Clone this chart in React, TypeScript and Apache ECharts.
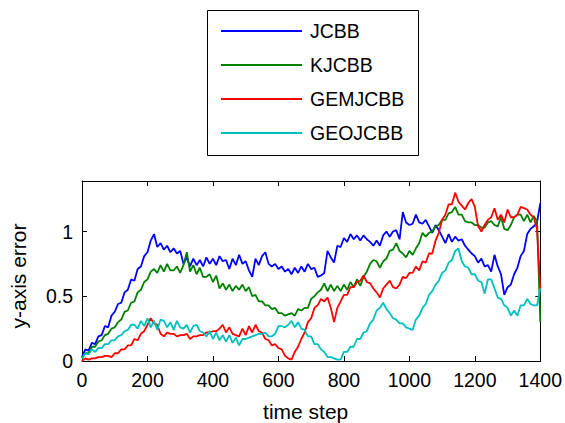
import React, { useEffect, useRef } from "react";
import * as echarts from "echarts";

const TIME_STEPS: number[] = Array.from({ length: 141 }, (_, i) => i * 10);

const JCBB: number[] = [
  0.03, 0.09, 0.08, 0.14, 0.13, 0.19, 0.20, 0.27, 0.26, 0.35,
  0.38, 0.44, 0.45, 0.53, 0.55, 0.63, 0.62, 0.71, 0.73, 0.81,
  0.84, 0.93, 0.98, 0.88, 0.91, 0.86, 0.89, 0.84, 0.87, 0.83,
  0.85, 0.75, 0.80, 0.73, 0.79, 0.74, 0.78, 0.73, 0.80, 0.75,
  0.79, 0.74, 0.81, 0.77, 0.78, 0.71, 0.79, 0.74, 0.82, 0.75,
  0.77, 0.70, 0.65, 0.79, 0.74, 0.81, 0.84, 0.75, 0.73, 0.75,
  0.71, 0.73, 0.69, 0.71, 0.67, 0.72, 0.68, 0.73, 0.69, 0.75,
  0.71, 0.72, 0.65, 0.66, 0.68, 0.85, 0.80, 0.76, 0.89, 0.88,
  0.95, 0.92, 0.98, 0.94, 0.97, 0.93, 0.97, 0.94, 0.92, 0.89,
  0.93, 0.89, 0.97, 1.00, 0.96, 1.00, 1.01, 0.94, 1.15, 1.07,
  1.05, 1.06, 1.13, 1.07, 1.06, 1.09, 1.04, 0.99, 1.05, 1.01,
  0.96, 0.91, 0.98, 0.92, 0.96, 0.93, 0.94, 0.89, 0.86, 0.83,
  0.81, 0.76, 0.79, 0.73, 0.74, 0.69, 0.82, 0.73, 0.67, 0.51,
  0.57, 0.59, 0.67, 0.72, 0.81, 0.85, 0.98, 1.02, 1.04, 1.07,
  1.22,
];

const KJCBB: number[] = [
  0.02, 0.06, 0.06, 0.11, 0.11, 0.15, 0.16, 0.20, 0.21, 0.25,
  0.26, 0.30, 0.32, 0.38, 0.39, 0.45, 0.46, 0.53, 0.55, 0.61,
  0.63, 0.69, 0.71, 0.68, 0.74, 0.69, 0.75, 0.70, 0.70, 0.73,
  0.68, 0.74, 0.84, 0.69, 0.74, 0.67, 0.72, 0.65, 0.65, 0.67,
  0.61, 0.66, 0.56, 0.60, 0.55, 0.59, 0.54, 0.58, 0.55, 0.59,
  0.54, 0.57, 0.50, 0.51, 0.46, 0.46, 0.43, 0.43, 0.40, 0.41,
  0.37, 0.37, 0.35, 0.36, 0.37, 0.35, 0.40, 0.39, 0.41, 0.41,
  0.48, 0.50, 0.53, 0.55, 0.60, 0.54, 0.59, 0.54, 0.58, 0.54,
  0.59, 0.55, 0.61, 0.57, 0.63, 0.58, 0.65, 0.69, 0.75, 0.78,
  0.77, 0.72, 0.77, 0.79, 0.85, 0.86, 0.91, 0.85, 0.83, 0.80,
  0.85, 0.82, 0.87, 0.91, 0.99, 0.96, 0.99, 1.00, 1.04, 1.05,
  1.09, 1.09, 1.14, 1.15, 1.19, 1.13, 1.13, 1.08, 1.07, 1.07,
  1.05, 1.05, 1.03, 1.03, 1.07, 1.08, 1.05, 1.04, 1.11, 1.02,
  1.01, 1.05, 1.11, 1.13, 1.13, 1.08, 1.13, 1.07, 1.12, 1.08,
  0.30,
];

const GEMJCBB: number[] = [
  0.00, 0.02, 0.01, 0.02, 0.02, 0.03, 0.03, 0.04, 0.04, 0.03,
  0.06, 0.06, 0.09, 0.09, 0.12, 0.12, 0.17, 0.16, 0.21, 0.23,
  0.28, 0.33, 0.29, 0.28, 0.21, 0.19, 0.22, 0.21, 0.21, 0.19,
  0.20, 0.20, 0.21, 0.17, 0.19, 0.19, 0.20, 0.20, 0.22, 0.22,
  0.23, 0.23, 0.25, 0.28, 0.22, 0.26, 0.21, 0.20, 0.19, 0.25,
  0.20, 0.27, 0.22, 0.28, 0.23, 0.22, 0.17, 0.16, 0.12, 0.13,
  0.10, 0.09, 0.04, 0.02, 0.01, 0.07, 0.11, 0.17, 0.22, 0.30,
  0.33, 0.41, 0.43, 0.48, 0.46, 0.49, 0.41, 0.30, 0.41, 0.46,
  0.51, 0.51, 0.57, 0.57, 0.61, 0.62, 0.66, 0.61, 0.60, 0.56,
  0.53, 0.49, 0.56, 0.59, 0.62, 0.57, 0.56, 0.59, 0.65, 0.64,
  0.68, 0.68, 0.73, 0.70, 0.77, 0.76, 0.83, 0.83, 0.93, 0.99,
  1.09, 1.13, 1.21, 1.21, 1.30, 1.23, 1.20, 1.17, 1.22, 1.25,
  1.19, 1.04, 1.00, 1.05, 1.09, 1.11, 1.18, 1.09, 1.13, 1.07,
  1.17, 1.11, 1.11, 1.13, 1.19, 1.18, 1.17, 1.13, 1.11, 1.02,
  0.55,
];

const GEOJCBB: number[] = [
  0.02, 0.06, 0.05, 0.09, 0.07, 0.10, 0.10, 0.13, 0.13, 0.16,
  0.16, 0.19, 0.20, 0.23, 0.24, 0.28, 0.28, 0.25, 0.31, 0.27,
  0.33, 0.26, 0.31, 0.24, 0.32, 0.31, 0.26, 0.30, 0.24, 0.31,
  0.26, 0.25, 0.28, 0.22, 0.27, 0.28, 0.23, 0.22, 0.19, 0.23,
  0.17, 0.22, 0.16, 0.20, 0.15, 0.20, 0.14, 0.18, 0.12, 0.17,
  0.17, 0.18, 0.19, 0.20, 0.21, 0.21, 0.22, 0.19, 0.19, 0.21,
  0.27, 0.27, 0.26, 0.28, 0.31, 0.26, 0.30, 0.25, 0.24, 0.19,
  0.19, 0.13, 0.13, 0.09, 0.07, 0.03, 0.03, 0.02, 0.01, 0.01,
  0.07, 0.07, 0.11, 0.11, 0.17, 0.17, 0.22, 0.23, 0.29, 0.32,
  0.39, 0.41, 0.45, 0.40, 0.37, 0.33, 0.32, 0.29, 0.29, 0.26,
  0.25, 0.24, 0.32, 0.35, 0.41, 0.44, 0.51, 0.54, 0.59, 0.62,
  0.68, 0.70, 0.76, 0.78, 0.85, 0.87, 0.77, 0.73, 0.72, 0.67,
  0.67, 0.62, 0.61, 0.52, 0.63, 0.63, 0.56, 0.49, 0.48, 0.43,
  0.41, 0.35, 0.39, 0.35, 0.43, 0.43, 0.48, 0.44, 0.43, 0.43,
  0.56,
];

const SERIES_NAMES = ["JCBB", "KJCBB", "GEMJCBB", "GEOJCBB"];
const SERIES_VALUES = [JCBB, KJCBB, GEMJCBB, GEOJCBB];
const SERIES_COLORS = ["#0000ff", "#008000", "#ff0000", "#00bfbf"];

const X_MIN = 0;
const X_MAX = 1400;
const X_INTERVAL = 200;
const Y_MIN = 0;
const Y_MAX = 1.39;
const Y_INTERVAL = 0.5;

const FONT = "'Liberation Sans', Arial, Helvetica, sans-serif";

export default function App() {
  const ref = useRef<HTMLDivElement>(null);

  useEffect(() => {
    if (!ref.current) return;
    const chart = echarts.init(ref.current, undefined, { renderer: "svg" });

    const frameAxisLine = { show: true, onZero: false, lineStyle: { color: "#000", width: 1 } };
    const innerTick = { show: true, inside: true, length: 5, lineStyle: { color: "#000", width: 1 } };

    const option: any = {
      animation: false,
      backgroundColor: "#ffffff",
      textStyle: { fontFamily: FONT, color: "#000" },
      grid: { left: 80.5, right: 22, top: 181, bottom: 61.5, containLabel: false },
      legend: {
        orient: "vertical",
        left: 221,
        top: 20,
        padding: 0,
        itemWidth: 81,
        itemHeight: 2,
        itemGap: 12,
        icon: "rect",
        selectedMode: false,
        data: SERIES_NAMES,
        textStyle: {
          fontFamily: FONT,
          fontSize: 19.5,
          lineHeight: 22,
          color: "#000",
          padding: [0, 0, 0, 3],
        },
      },
      graphic: [
        {
          type: "rect",
          z: 0,
          shape: { x: 207.5, y: 10.5, width: 211, height: 145 },
          style: { fill: "#fff", stroke: "#000", lineWidth: 1 },
        },
      ],
      xAxis: [
        {
          type: "value",
          min: X_MIN,
          max: X_MAX,
          interval: X_INTERVAL,
          position: "bottom",
          name: "time step",
          nameLocation: "middle",
          nameGap: 40,
          nameTextStyle: { fontFamily: FONT, fontSize: 21, color: "#000", padding: [0, 11, 0, 0] },
          axisLine: frameAxisLine,
          axisTick: innerTick,
          axisLabel: {
            fontFamily: FONT,
            fontSize: 19.5,
            color: "#000",
            margin: 9,
            formatter: (v: number) => String(v),
          },
          splitLine: { show: false },
        },
        {
          type: "value",
          min: X_MIN,
          max: X_MAX,
          interval: X_INTERVAL,
          position: "top",
          axisLine: frameAxisLine,
          axisTick: innerTick,
          axisLabel: { show: false },
          splitLine: { show: false },
        },
      ],
      yAxis: [
        {
          type: "value",
          min: Y_MIN,
          max: Y_MAX,
          interval: Y_INTERVAL,
          position: "left",
          name: "y-axis error",
          nameLocation: "middle",
          nameGap: 53,
          nameTextStyle: { fontFamily: FONT, fontSize: 21, color: "#000", padding: [0, 10, 0, 0] },
          axisLine: frameAxisLine,
          axisTick: innerTick,
          axisLabel: {
            fontFamily: FONT,
            fontSize: 19.5,
            color: "#000",
            margin: 9,
            showMaxLabel: false,
            formatter: (v: number) => String(v),
          },
          splitLine: { show: false },
        },
        {
          type: "value",
          min: Y_MIN,
          max: Y_MAX,
          interval: Y_INTERVAL,
          position: "right",
          axisLine: frameAxisLine,
          axisTick: innerTick,
          axisLabel: { show: false },
          splitLine: { show: false },
        },
      ],
      series: SERIES_NAMES.map((name, k) => ({
        name,
        type: "line",
        xAxisIndex: 0,
        yAxisIndex: 0,
        showSymbol: false,
        symbol: "none",
        clip: true,
        color: SERIES_COLORS[k],
        lineStyle: { color: SERIES_COLORS[k], width: 1.8 },
        data: SERIES_VALUES[k].map((v, i) => [TIME_STEPS[i], v]),
      })),
    };

    chart.setOption(option);
    return () => chart.dispose();
  }, []);

  return (
    <div
      ref={ref}
      style={{ position: "absolute", left: 0, top: 0, width: 565, height: 423, background: "#fff" }}
    />
  );
}
